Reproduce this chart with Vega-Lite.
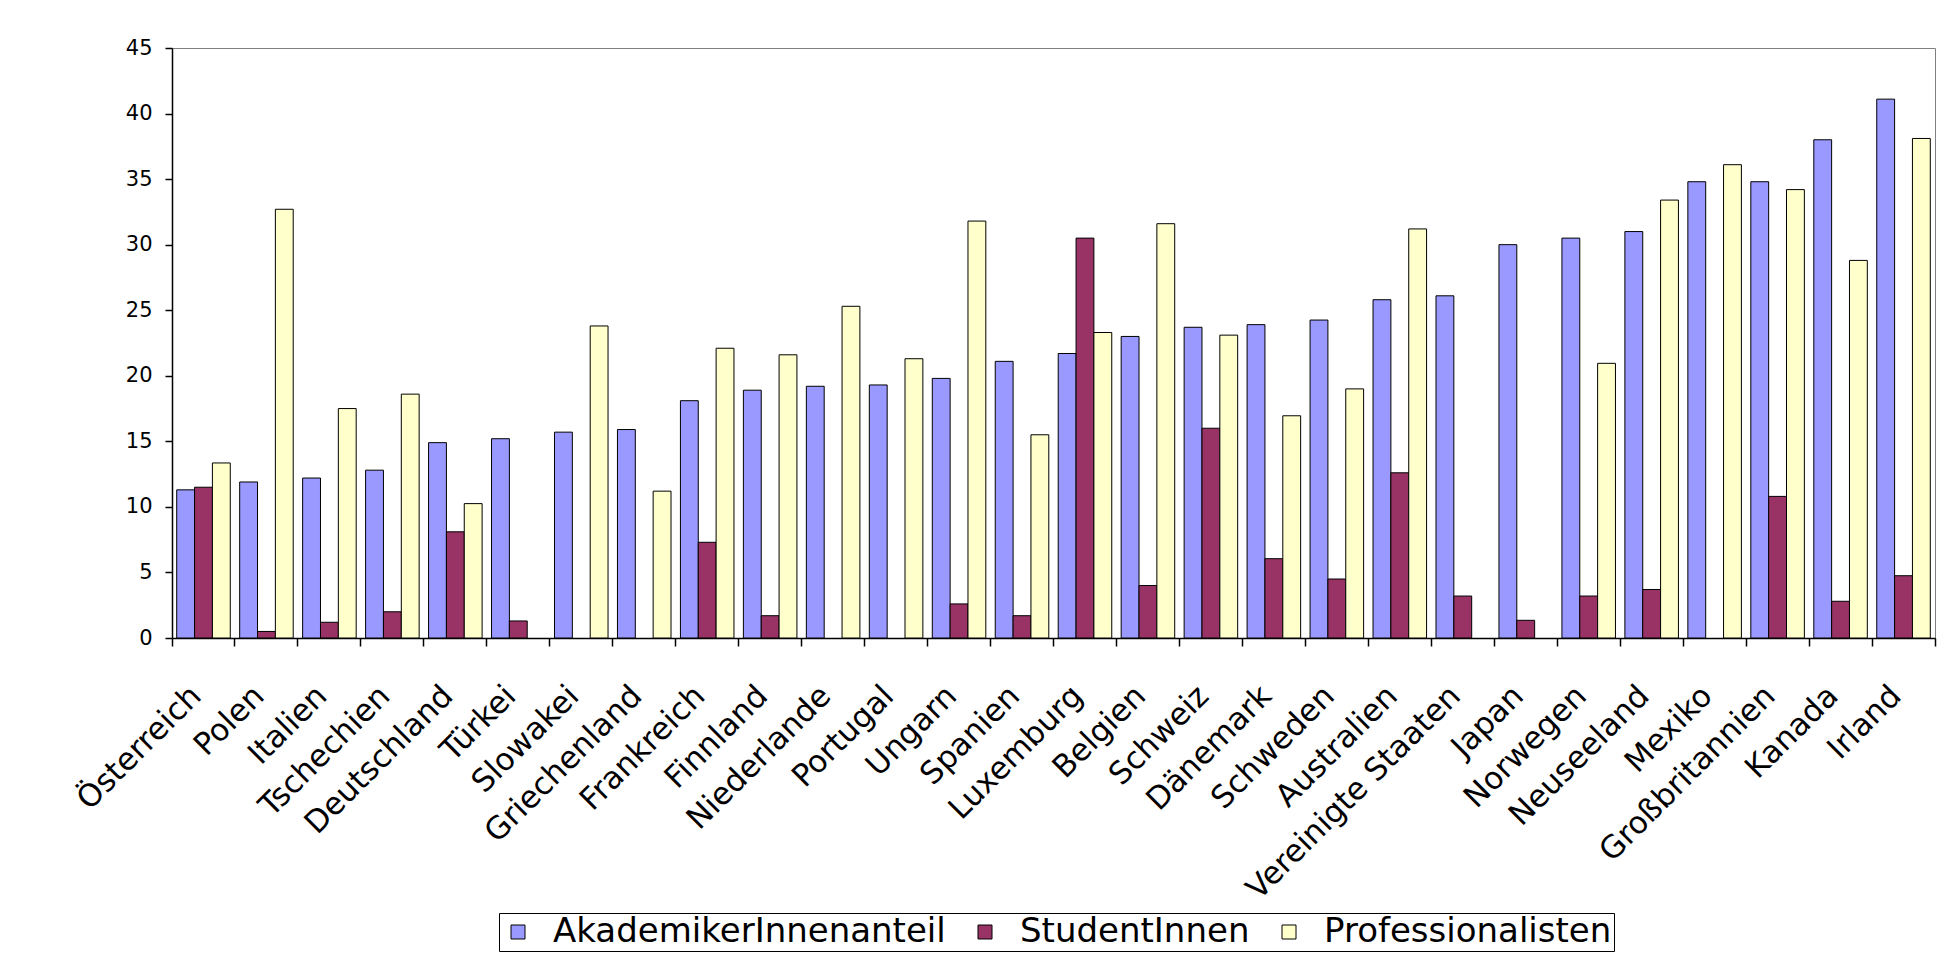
{
  "$schema": "https://vega.github.io/schema/vega-lite/v6.json",
  "width": 1763,
  "height": 590,
  "autosize": {"type": "none"},
  "padding": {"left": 172, "top": 48, "right": 21, "bottom": 318},
  "background": "white",
  "config": {"view": {"stroke": "#808080", "strokeWidth": 1}, "font": "DejaVu Sans"},
  "data": {"values": [
    {"Land": "Österreich", "Serie": "AkademikerInnenanteil", "Wert": 11.3},
    {"Land": "Österreich", "Serie": "StudentInnen", "Wert": 11.5},
    {"Land": "Österreich", "Serie": "Professionalisten", "Wert": 13.35},
    {"Land": "Polen", "Serie": "AkademikerInnenanteil", "Wert": 11.9},
    {"Land": "Polen", "Serie": "StudentInnen", "Wert": 0.5},
    {"Land": "Polen", "Serie": "Professionalisten", "Wert": 32.7},
    {"Land": "Italien", "Serie": "AkademikerInnenanteil", "Wert": 12.2},
    {"Land": "Italien", "Serie": "StudentInnen", "Wert": 1.2},
    {"Land": "Italien", "Serie": "Professionalisten", "Wert": 17.5},
    {"Land": "Tschechien", "Serie": "AkademikerInnenanteil", "Wert": 12.8},
    {"Land": "Tschechien", "Serie": "StudentInnen", "Wert": 2.0},
    {"Land": "Tschechien", "Serie": "Professionalisten", "Wert": 18.6},
    {"Land": "Deutschland", "Serie": "AkademikerInnenanteil", "Wert": 14.9},
    {"Land": "Deutschland", "Serie": "StudentInnen", "Wert": 8.1},
    {"Land": "Deutschland", "Serie": "Professionalisten", "Wert": 10.25},
    {"Land": "Türkei", "Serie": "AkademikerInnenanteil", "Wert": 15.2},
    {"Land": "Türkei", "Serie": "StudentInnen", "Wert": 1.3},
    {"Land": "Slowakei", "Serie": "AkademikerInnenanteil", "Wert": 15.7},
    {"Land": "Slowakei", "Serie": "Professionalisten", "Wert": 23.8},
    {"Land": "Griechenland", "Serie": "AkademikerInnenanteil", "Wert": 15.9},
    {"Land": "Griechenland", "Serie": "Professionalisten", "Wert": 11.2},
    {"Land": "Frankreich", "Serie": "AkademikerInnenanteil", "Wert": 18.1},
    {"Land": "Frankreich", "Serie": "StudentInnen", "Wert": 7.3},
    {"Land": "Frankreich", "Serie": "Professionalisten", "Wert": 22.1},
    {"Land": "Finnland", "Serie": "AkademikerInnenanteil", "Wert": 18.9},
    {"Land": "Finnland", "Serie": "StudentInnen", "Wert": 1.7},
    {"Land": "Finnland", "Serie": "Professionalisten", "Wert": 21.6},
    {"Land": "Niederlande", "Serie": "AkademikerInnenanteil", "Wert": 19.2},
    {"Land": "Niederlande", "Serie": "Professionalisten", "Wert": 25.3},
    {"Land": "Portugal", "Serie": "AkademikerInnenanteil", "Wert": 19.3},
    {"Land": "Portugal", "Serie": "Professionalisten", "Wert": 21.3},
    {"Land": "Ungarn", "Serie": "AkademikerInnenanteil", "Wert": 19.8},
    {"Land": "Ungarn", "Serie": "StudentInnen", "Wert": 2.6},
    {"Land": "Ungarn", "Serie": "Professionalisten", "Wert": 31.8},
    {"Land": "Spanien", "Serie": "AkademikerInnenanteil", "Wert": 21.1},
    {"Land": "Spanien", "Serie": "StudentInnen", "Wert": 1.7},
    {"Land": "Spanien", "Serie": "Professionalisten", "Wert": 15.5},
    {"Land": "Luxemburg", "Serie": "AkademikerInnenanteil", "Wert": 21.7},
    {"Land": "Luxemburg", "Serie": "StudentInnen", "Wert": 30.5},
    {"Land": "Luxemburg", "Serie": "Professionalisten", "Wert": 23.3},
    {"Land": "Belgien", "Serie": "AkademikerInnenanteil", "Wert": 23.0},
    {"Land": "Belgien", "Serie": "StudentInnen", "Wert": 4.0},
    {"Land": "Belgien", "Serie": "Professionalisten", "Wert": 31.6},
    {"Land": "Schweiz", "Serie": "AkademikerInnenanteil", "Wert": 23.7},
    {"Land": "Schweiz", "Serie": "StudentInnen", "Wert": 16.0},
    {"Land": "Schweiz", "Serie": "Professionalisten", "Wert": 23.1},
    {"Land": "Dänemark", "Serie": "AkademikerInnenanteil", "Wert": 23.9},
    {"Land": "Dänemark", "Serie": "StudentInnen", "Wert": 6.05},
    {"Land": "Dänemark", "Serie": "Professionalisten", "Wert": 16.95},
    {"Land": "Schweden", "Serie": "AkademikerInnenanteil", "Wert": 24.25},
    {"Land": "Schweden", "Serie": "StudentInnen", "Wert": 4.5},
    {"Land": "Schweden", "Serie": "Professionalisten", "Wert": 19.0},
    {"Land": "Australien", "Serie": "AkademikerInnenanteil", "Wert": 25.8},
    {"Land": "Australien", "Serie": "StudentInnen", "Wert": 12.6},
    {"Land": "Australien", "Serie": "Professionalisten", "Wert": 31.2},
    {"Land": "Vereinigte Staaten", "Serie": "AkademikerInnenanteil", "Wert": 26.1},
    {"Land": "Vereinigte Staaten", "Serie": "StudentInnen", "Wert": 3.2},
    {"Land": "Japan", "Serie": "AkademikerInnenanteil", "Wert": 30.0},
    {"Land": "Japan", "Serie": "StudentInnen", "Wert": 1.35},
    {"Land": "Norwegen", "Serie": "AkademikerInnenanteil", "Wert": 30.5},
    {"Land": "Norwegen", "Serie": "StudentInnen", "Wert": 3.2},
    {"Land": "Norwegen", "Serie": "Professionalisten", "Wert": 20.95},
    {"Land": "Neuseeland", "Serie": "AkademikerInnenanteil", "Wert": 31.0},
    {"Land": "Neuseeland", "Serie": "StudentInnen", "Wert": 3.7},
    {"Land": "Neuseeland", "Serie": "Professionalisten", "Wert": 33.4},
    {"Land": "Mexiko", "Serie": "AkademikerInnenanteil", "Wert": 34.8},
    {"Land": "Mexiko", "Serie": "Professionalisten", "Wert": 36.1},
    {"Land": "Großbritannien", "Serie": "AkademikerInnenanteil", "Wert": 34.8},
    {"Land": "Großbritannien", "Serie": "StudentInnen", "Wert": 10.8},
    {"Land": "Großbritannien", "Serie": "Professionalisten", "Wert": 34.2},
    {"Land": "Kanada", "Serie": "AkademikerInnenanteil", "Wert": 38.0},
    {"Land": "Kanada", "Serie": "StudentInnen", "Wert": 2.8},
    {"Land": "Kanada", "Serie": "Professionalisten", "Wert": 28.8},
    {"Land": "Irland", "Serie": "AkademikerInnenanteil", "Wert": 41.1},
    {"Land": "Irland", "Serie": "StudentInnen", "Wert": 4.75},
    {"Land": "Irland", "Serie": "Professionalisten", "Wert": 38.1}
  ]},
  "mark": {"type": "bar", "stroke": "#000000", "strokeWidth": 1},
  "encoding": {
    "x": {
      "field": "Land", "type": "nominal", "sort": null,
      "scale": {"paddingInner": 0, "paddingOuter": 0},
      "axis": {
        "title": null, "labelAngle": -45, "labelAlign": "right", "labelBaseline": "middle",
        "labelFont": "DejaVu Sans", "labelFontSize": 31, "labelColor": "#000000",
        "labelPadding": 45, "labelOffset": -7, "labelOverlap": false, "labelLimit": 0,
        "domainColor": "#000000", "domainWidth": 1.5, "tickColor": "#000000", "tickSize": 8, "tickWidth": 1.5,
        "bandPosition": 1, "tickExtra": true
      }
    },
    "xOffset": {
      "field": "Serie", "type": "nominal",
      "sort": ["AkademikerInnenanteil", "StudentInnen", "Professionalisten"],
      "scale": {"domain": ["AkademikerInnenanteil", "StudentInnen", "Professionalisten"], "paddingInner": 0, "paddingOuter": 0.264}
    },
    "y": {
      "field": "Wert", "type": "quantitative",
      "scale": {"domain": [0, 45], "nice": false},
      "axis": {
        "title": null, "values": [0, 5, 10, 15, 20, 25, 30, 35, 40, 45], "grid": false,
        "labelFont": "DejaVu Sans", "labelFontSize": 21, "labelColor": "#000000", "labelPadding": 13,
        "domainColor": "#000000", "domainWidth": 1.5, "tickColor": "#000000", "tickSize": 7, "tickWidth": 1.5
      }
    },
    "color": {
      "field": "Serie", "type": "nominal",
      "scale": {"domain": ["AkademikerInnenanteil", "StudentInnen", "Professionalisten"], "range": ["#9999FF", "#993366", "#FFFFCC"]},
      "legend": {
        "title": null, "orient": "none", "legendX": 327, "legendY": 865, "direction": "horizontal",
        "strokeColor": "#000000", "fillColor": "#ffffff", "padding": 2,
        "symbolType": "square", "symbolSize": 196, "symbolStrokeColor": "#000000", "symbolStrokeWidth": 1, "symbolOpacity": 1,
        "labelFont": "DejaVu Sans", "labelFontSize": 34, "labelColor": "#000000", "labelLimit": 0,
        "columnPadding": 22, "labelOffset": 18
      }
    }
  }
}
